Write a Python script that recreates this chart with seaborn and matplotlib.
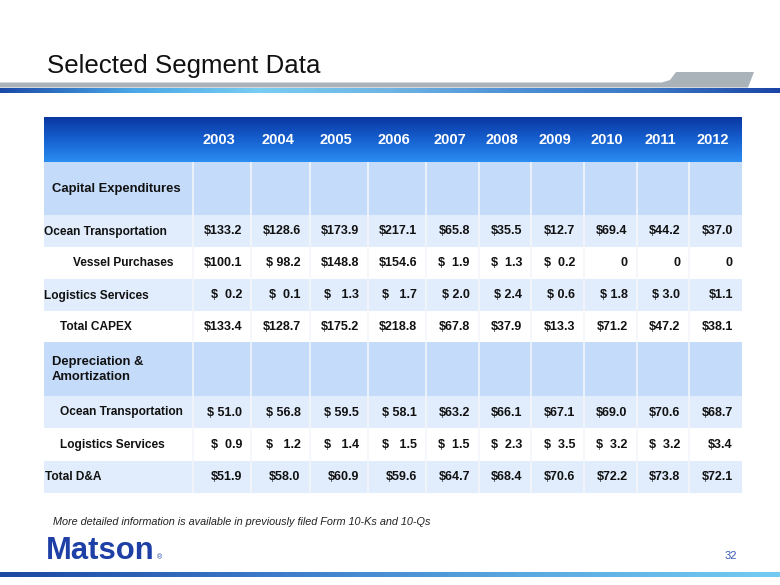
"""Selected Segment Data table slide (capex and D&A by year)."""

import matplotlib.pyplot as plt
import numpy as np
import seaborn as sns

years = ["2003", "2004", "2005", "2006", "2007", "2008", "2009", "2010", "2011", "2012"]

capex_ocean = ["$133.2", "$128.6", "$173.9", "$217.1", "$65.8", "$35.5", "$12.7", "$69.4", "$44.2", "$37.0"]
capex_vessel = ["$100.1", "$ 98.2", "$148.8", "$154.6", "$  1.9", "$  1.3", "$  0.2", "0", "0", "0"]
capex_logistics = ["$  0.2", "$  0.1", "$   1.3", "$   1.7", "$ 2.0", "$ 2.4", "$ 0.6", "$ 1.8", "$ 3.0", "$1.1"]
capex_total = ["$133.4", "$128.7", "$175.2", "$218.8", "$67.8", "$37.9", "$13.3", "$71.2", "$47.2", "$38.1"]
da_ocean = ["$ 51.0", "$ 56.8", "$ 59.5", "$ 58.1", "$63.2", "$66.1", "$67.1", "$69.0", "$70.6", "$68.7"]
da_logistics = ["$  0.9", "$   1.2", "$   1.4", "$   1.5", "$  1.5", "$  2.3", "$  3.5", "$  3.2", "$  3.2", "$3.4"]
da_total = ["$51.9", "$58.0", "$60.9", "$59.6", "$64.7", "$68.4", "$70.6", "$72.2", "$73.8", "$72.1"]

row_labels = [
    "Capital Expenditures",
    "Ocean Transportation",
    "Vessel Purchases",
    "Logistics Services",
    "Total CAPEX",
    "Depreciation &\nAmortization",
    "Ocean Transportation",
    "Logistics Services",
    "Total D&A",
]
row_values = [None, capex_ocean, capex_vessel, capex_logistics, capex_total,
              None, da_ocean, da_logistics, da_total]

# layout (pixels)
TABLE_LEFT = 44
COL_WIDTHS = [149] + [58.3] * 4 + [52.6] * 6
HEADER = (117, 162)
ROW_HEIGHTS = [53, 32, 32, 32, 31, 54, 32, 33, 32]
ROW_KIND = ["section", "light", "white", "light", "white", "section", "light", "white", "light"]
LABEL_X = [52, 44, 73, 44, 60, 52, 60, 60, 45]

SECTION = "#c4dbfa"
LIGHT = "#e1edfc"
WHITE = "#ffffff"
BLUE_TEXT = "#1d3fa6"

sns.set_theme(style="white")
plt.rcParams["font.family"] = ["Liberation Sans", "DejaVu Sans"]

fig = plt.figure(figsize=(7.8, 5.85), dpi=100)
ax = fig.add_axes([0, 0, 1, 1])
ax.set_xlim(0, 780)
ax.set_ylim(585, 0)
ax.axis("off")

# title and rule
ax.text(47, 73.5, "Selected Segment Data", fontsize=18.6, color="#111111", va="baseline", ha="left")
band = np.array([[0, 82.5], [662, 82.5], [670, 80], [676, 72], [754, 72], [748, 87.5], [0, 87.5]])
ax.add_patch(plt.Polygon(band, closed=True, color="#aab2ba", lw=0))
top_cmap = sns.blend_palette(["#1a4aa8", "#4aa6e6", "#78cdf2", "#6fb4e4", "#4d8ed4", "#3a78c4", "#1b44a6"], as_cmap=True)
ax.imshow(np.linspace(0, 1, 256)[None, :], cmap=top_cmap, aspect="auto",
          extent=[0, 780, 93.5, 88.5], zorder=2)

# header gradient
col_edges = TABLE_LEFT + np.concatenate([[0], np.cumsum(COL_WIDTHS)])
table_right = col_edges[-1]
head_cmap = sns.blend_palette(["#0a37a2", "#1660d0", "#2b8df2"], as_cmap=True)
ax.imshow(np.linspace(0, 1, 128)[:, None], cmap=head_cmap, aspect="auto",
          extent=[TABLE_LEFT, table_right, HEADER[1], HEADER[0]], zorder=2)
for i, year in enumerate(years):
    cx = (col_edges[i + 1] + col_edges[i + 2]) / 2 - 3
    ax.text(cx, (HEADER[0] + HEADER[1]) / 2 + 1, year, color="white", fontsize=10.5,
            fontweight="bold", ha="center", va="center", zorder=3)

# body rows
row_tops = HEADER[1] + np.concatenate([[0], np.cumsum(ROW_HEIGHTS)[:-1]])
colors = {"section": SECTION, "light": LIGHT, "white": WHITE}
ax.barh(row_tops + np.array(ROW_HEIGHTS) / 2, table_right - TABLE_LEFT, height=ROW_HEIGHTS,
        left=TABLE_LEFT, color=[colors[k] for k in ROW_KIND], lw=0, zorder=1)
ax.vlines(col_edges[1:-1], HEADER[1], row_tops[-1] + ROW_HEIGHTS[-1], color="#f4f6f9", lw=1.2, zorder=2)

for top, h, kind, label, lx, vals in zip(row_tops, ROW_HEIGHTS, ROW_KIND, row_labels, LABEL_X, row_values):
    cy = top + h / 2
    size = 9.35 if kind == "section" else 8.6
    ax.text(lx, cy + 0.5, label, fontsize=size, fontweight="bold", color="#111111",
            ha="left", va="center", linespacing=1.4, zorder=3)
    if vals is None:
        continue
    for i, v in enumerate(vals):
        ax.text(col_edges[i + 2] - 9, cy + 0.5, v, fontsize=9, fontweight="bold", color="#111111",
                ha="right", va="center", zorder=3)

# footer
ax.text(53, 522, "More detailed information is available in previously filed Form 10-Ks and 10-Qs",
        fontsize=7.8, style="italic", color="#222222", ha="left", va="center")
ax.text(46, 559, "Matson", fontsize=22.3, fontweight="bold", color=BLUE_TEXT, ha="left", va="baseline")
ax.text(157, 559, "®", fontsize=5, color=BLUE_TEXT, ha="left", va="baseline")
ax.text(731, 556, "32", fontsize=8, color="#3656b8", ha="center", va="center")
bottom_cmap = sns.blend_palette(["#1c47a2", "#3a78c8", "#5aa8e0", "#74cbf2"], as_cmap=True)
ax.imshow(np.linspace(0, 1, 256)[None, :], cmap=bottom_cmap, aspect="auto",
          extent=[0, 780, 577, 572], zorder=2)

ax.set_xlim(0, 780)
ax.set_ylim(585, 0)
fig.savefig("out.png", dpi=100)
plt.close(fig)
